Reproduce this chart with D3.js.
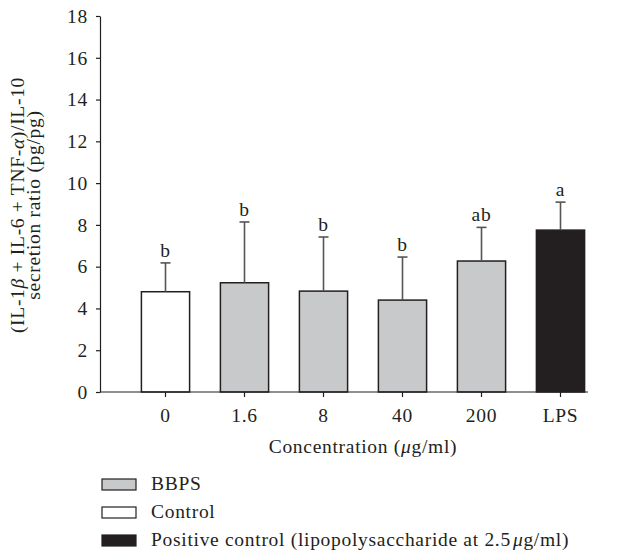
<!DOCTYPE html>
<html>
<head>
<meta charset="utf-8">
<script src="https://cdn.jsdelivr.net/npm/d3@7"></script>
<style>
  html, body { margin: 0; padding: 0; background: #fff; }
  svg { display: block; }
  text { font-family: "Liberation Serif", "DejaVu Serif", serif; fill: #231f20; letter-spacing: 0.7px; }
</style>
</head>
<body>
<svg id="chart" width="619" height="555"></svg>
<script>
// Groups along the x axis
const categories = ["0", "1.6", "8", "40", "200", "LPS"];
// Mean ratio for each group
const means = [4.80, 5.23, 4.83, 4.40, 6.27, 7.75];
// Upper error (SD) for each group
const sds = [1.38, 2.91, 2.59, 2.06, 1.61, 1.34];
// Significance letters
const letters = ["b", "b", "b", "b", "ab", "a"];
// Group type: control, BBPS, or positive control
const groupType = ["control", "bbps", "bbps", "bbps", "bbps", "lps"];
const yTicks = [0, 2, 4, 6, 8, 10, 12, 14, 16, 18];
const legendItems = [
  { key: "bbps", label: "BBPS" },
  { key: "control", label: "Control" },
  { key: "lps", label: "Positive control (lipopolysaccharide at 2.5", unit: true }
];

const fills = { control: "#ffffff", bbps: "#c8c9cb", lps: "#231f20" };
const ink = "#231f20";
const fs = 19.5;

const svg = d3.select("#chart");

const y = d3.scaleLinear().domain([0, 18]).range([392, 16]);
const x = d3.scaleBand().domain(categories).range([126, 600])
  .paddingInner(0.39).paddingOuter(0.195);

// y axis
const yAxis = svg.append("g").attr("transform", "translate(100,0)")
  .call(d3.axisLeft(y).tickValues(yTicks).tickSize(4).tickPadding(8).tickSizeOuter(0));
yAxis.select(".domain").attr("stroke", ink).attr("stroke-width", 1.2);
yAxis.selectAll(".tick line").attr("stroke", ink).attr("stroke-width", 1.2);
yAxis.selectAll(".tick text").attr("font-size", fs).attr("fill", ink)
  .style("font-family", "'Liberation Serif', serif");

// bars
svg.append("g").selectAll("rect").data(categories).join("rect")
  .attr("x", (d) => x(d))
  .attr("width", x.bandwidth())
  .attr("y", (d, i) => y(means[i]))
  .attr("height", (d, i) => y(0) - y(means[i]))
  .attr("fill", (d, i) => fills[groupType[i]])
  .attr("stroke", ink)
  .attr("stroke-width", 1.5);

// error bars
const eb = svg.append("g").attr("stroke", "#555").attr("stroke-width", 1.6);
categories.forEach((c, i) => {
  const cx = x(c) + x.bandwidth() / 2;
  eb.append("line").attr("x1", cx).attr("x2", cx)
    .attr("y1", y(means[i])).attr("y2", y(means[i] + sds[i]));
  eb.append("line").attr("x1", cx - 5).attr("x2", cx + 5)
    .attr("y1", y(means[i] + sds[i])).attr("y2", y(means[i] + sds[i]));
});

// significance letters
svg.append("g").selectAll("text").data(categories).join("text")
  .attr("x", (d) => x(d) + x.bandwidth() / 2)
  .attr("y", (d, i) => y(means[i] + sds[i]) - 6)
  .attr("text-anchor", "middle")
  .attr("font-size", fs)
  .text((d, i) => letters[i]);

// x axis
const xAxis = svg.append("g").attr("transform", "translate(0,392)")
  .call(d3.axisBottom(x).tickSize(5).tickPadding(11).tickSizeOuter(0));
xAxis.select(".domain").remove();
xAxis.append("line").attr("x1", 100).attr("x2", 588).attr("stroke", ink).attr("stroke-width", 1.2);
xAxis.selectAll(".tick line").attr("stroke", ink).attr("stroke-width", 1.2);
xAxis.selectAll(".tick text").attr("font-size", fs).attr("fill", ink)
  .style("font-family", "'Liberation Serif', serif");

// x title
const xt = svg.append("text")
  .attr("x", (x("0") + x("LPS") + x.bandwidth()) / 2)
  .attr("y", 453)
  .attr("text-anchor", "middle")
  .attr("font-size", fs);
xt.append("tspan").text("Concentration (");
xt.append("tspan").attr("font-style", "italic").text("μ");
xt.append("tspan").text("g/ml)");

// y title, two lines
const yt = svg.append("text")
  .attr("transform", "translate(0,205) rotate(-90)")
  .attr("text-anchor", "middle")
  .attr("font-size", fs);
const l1 = yt.append("tspan").attr("x", 0).attr("y", 24);
l1.append("tspan").text("(IL-1");
l1.append("tspan").attr("font-style", "italic").text("β");
l1.append("tspan").text(" + IL-6 + TNF-");
l1.append("tspan").attr("font-style", "italic").text("α");
l1.append("tspan").text(")/IL-10");
yt.append("tspan").attr("x", 0).attr("y", 40).text("secretion ratio (pg/pg)");

// legend
const lg = svg.append("g");
legendItems.forEach((it, i) => {
  const yb = 490 + i * 28;
  lg.append("rect").attr("x", 102).attr("y", yb - 11).attr("width", 34).attr("height", 11)
    .attr("fill", fills[it.key]).attr("stroke", ink).attr("stroke-width", 1.2);
  const t = lg.append("text").attr("x", 151).attr("y", yb).attr("font-size", fs);
  t.append("tspan").text(it.label);
  if (it.unit) {
    t.append("tspan").attr("font-style", "italic").attr("dx", 2).text("μ");
    t.append("tspan").text("g/ml)");
  }
});
</script>
</body>
</html>
